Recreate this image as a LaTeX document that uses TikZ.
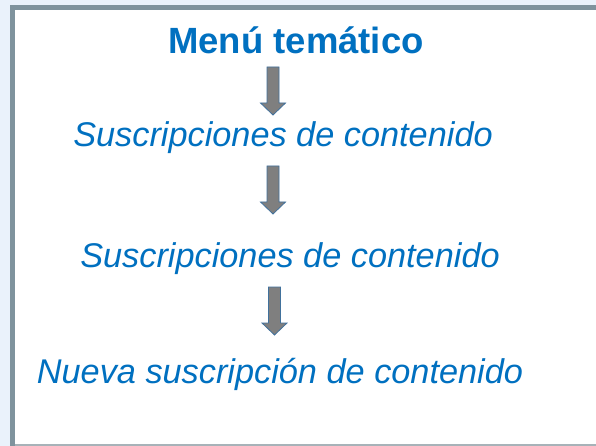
\documentclass[tikz,border=0pt]{standalone}
\usepackage{fontspec}
\setmainfont{Liberation Sans}
\definecolor{textblue}{HTML}{0070C0}
\definecolor{framegray}{HTML}{7F939D}
\definecolor{bggray}{HTML}{A7B2B8}
\definecolor{paleblue}{HTML}{EAF2FB}
\definecolor{arrowgray}{HTML}{7F7F7F}
\definecolor{arrowedge}{HTML}{41719C}
\tikzstyle{heading}=[%
	text=textblue, inner sep=0, anchor=base,
	font=\fontsize{36.5}{42}\selectfont\bfseries
]
\tikzstyle{entry}=[%
	text=textblue, inner sep=0, anchor=base,
	font=\fontsize{34.3}{40}\selectfont\itshape
]
\tikzstyle{blockarrow}=[fill=arrowgray, draw=arrowedge, line width=0.8pt, line join=miter]

\begin{document}
\begin{tikzpicture}[x=1pt, y=-1pt]
	\useasboundingbox (0,0) rectangle (596,446);
	\fill[paleblue] (0,0) rectangle (596,446);
	\fill[white] (12.5,7.5) rectangle (596,444);
	\draw[bggray, line width=2pt] (12.5,445) -- (596,445);
	\draw[framegray, line width=5pt] (12.5,446) -- (12.5,7.5) -- (596,7.5);

	\node[heading] (menu) at (296,54) {Menú temático};
	\node[entry] (sub1) at (283,147) {Suscripciones de contenido};
	\node[entry] (sub2) at (290,267) {Suscripciones de contenido};
	\node[entry] (nueva) at (280,383.3) {Nueva suscripción de contenido};

	\foreach \x/\y in {273/67, 273/166, 274.5/287} {
		\draw[blockarrow] (\x-6,\y) -- (\x+6,\y) -- (\x+6,\y+36) -- (\x+12.5,\y+36)
			-- (\x,\y+48) -- (\x-12.5,\y+36) -- (\x-6,\y+36) -- cycle;
	};
\end{tikzpicture}
\end{document}
